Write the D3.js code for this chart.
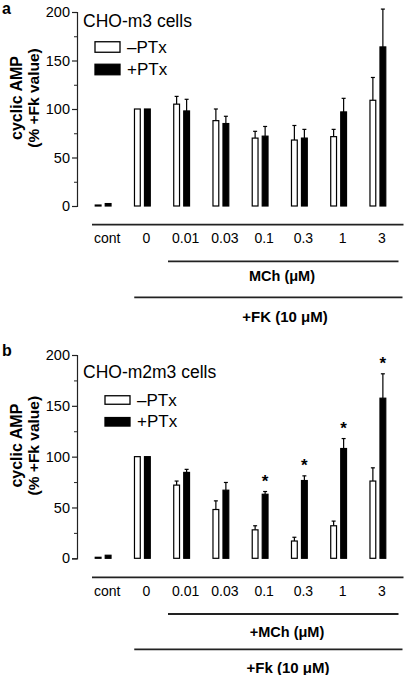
<!DOCTYPE html>
<html><head><meta charset="utf-8">
<script src="https://cdn.jsdelivr.net/npm/d3@7"></script>
<style>body{margin:0;background:#fff}svg{display:block}svg text{font-family:"Liberation Sans",Arial,sans-serif !important;fill:#000}</style>
</head><body>
<svg id="c" width="407" height="675"></svg>
<script>
const categories = ["cont","0","0.01","0.03","0.1","0.3","1","3"];
const series = ["\u2013PTx","+PTx"];
const yTicks = [0,50,100,150,200];
const yMinorTicks = [25,75,125,175];
// Panel a: CHO-m3 cells
const aMinus = [1,100,105,88,70,68,71.5,109];
const aMinusErr = [0,0,8,12,7,15,7.5,23.5];
const aPlus = [2.5,100,98,85,72,70,97,164];
const aPlusErr = [0,0,12,7.5,10,9,14,39];
// Panel b: CHO-m2m3 cells
const bMinus = [1,100,72,48,28,17,32,76];
const bMinusErr = [0,0,4,8.5,4,3.7,4.6,13];
const bPlus = [3,100,84.5,67,63,76.5,108,157.5];
const bPlusErr = [0,0,3,7.6,2.7,4.6,9.8,24];
const bSignificant = [false,false,false,false,true,true,true,true];

const svg = d3.select("#c");
const x = d3.scaleBand().domain(categories).range([83.5,397.5]).padding(0);
const xs = d3.scaleBand().domain(series).range([-8.5,8.5]).paddingInner(0.3);

function panel(o){
  const g = svg.append("g");
  const y = d3.scaleLinear().domain([0,200]).range([o.y0,o.y200]);
  g.append("text").attr("x",2).attr("y",o.letterY).style("font-size","16px").style("font-weight","bold").text(o.letter);
  const ax = g.append("g").attr("transform","translate(77,0)")
    .call(d3.axisLeft(y).tickValues(yTicks).tickSize(5).tickPadding(2));
  ax.attr("font-family",null);
  ax.selectAll("text").style("font-size","14.5px");
  ax.select(".domain").attr("stroke","#222").attr("stroke-width",1.2);
  ax.selectAll(".tick line").attr("stroke","#222").attr("stroke-width",1.2);
  const mx = g.append("g").attr("transform","translate(77,0)")
    .call(d3.axisLeft(y).tickValues(yMinorTicks).tickSize(3).tickFormat(""));
  mx.select(".domain").remove();
  mx.selectAll(".tick line").attr("stroke","#222").attr("stroke-width",1);
  const tc = (o.y0+o.y200)/2 - 11;
  g.append("text").attr("transform",`translate(16,${tc}) rotate(-90)`).attr("text-anchor","middle")
    .attr("dominant-baseline","central").style("font-size","16px").style("font-weight","bold").text("cyclic AMP");
  g.append("text").attr("transform",`translate(33,${tc}) rotate(-90)`).attr("text-anchor","middle")
    .attr("dominant-baseline","central").style("font-size","15.5px").style("font-weight","bold").text("(% +Fk value)");
  g.append("text").attr("x",83).attr("y",o.titleY).style("font-size",o.titleSize).text(o.title);
  series.forEach((s,i)=>{
    const ly = o.legY[i];
    g.append("rect").attr("x",o.legX).attr("y",ly-o.legH/2).attr("width",25).attr("height",o.legH)
      .attr("fill",i===0?"#fff":"#000").attr("stroke","#000").attr("stroke-width",1.3);
    g.append("text").attr("x",o.legX+32).attr("y",ly).attr("dominant-baseline","central").style("font-size","17px").text(s);
  });
  const data = [];
  categories.forEach((c,j)=>{
    data.push({c,s:series[0],v:o.minus[j],e:o.minusErr[j],fill:"#fff"});
    data.push({c,s:series[1],v:o.plus[j],e:o.plusErr[j],fill:"#000",sig:o.sig?o.sig[j]:false});
  });
  const cx = d=> x(d.c)+x.bandwidth()/2 + xs(d.s) + xs.bandwidth()/2;
  data.filter(d=>d.e>0).forEach(d=>{
    const top = y(d.v+d.e);
    g.append("line").attr("x1",cx(d)).attr("x2",cx(d)).attr("y1",y(d.v)).attr("y2",top).attr("stroke","#000").attr("stroke-width",1.2);
    g.append("line").attr("x1",cx(d)-2).attr("x2",cx(d)+2).attr("y1",top).attr("y2",top).attr("stroke","#000").attr("stroke-width",1.2);
  });
  g.selectAll("rect.bar").data(data).join("rect").attr("class","bar")
    .attr("x",d=>x(d.c)+x.bandwidth()/2+xs(d.s)+0.6).attr("width",xs.bandwidth()-1.2)
    .attr("y",d=>y(d.v)).attr("height",d=>y(0)-y(d.v))
    .attr("fill",d=>d.fill).attr("stroke","#000").attr("stroke-width",1.2);
  data.filter(d=>d.sig).forEach(d=>{
    g.append("text").attr("x",cx(d)).attr("y",y(d.v+d.e)-10).attr("text-anchor","middle")
      .attr("dominant-baseline","central").style("font-size","17px").style("font-weight","bold").text("*");
  });
  const x0 = x.range()[0], x1 = x.range()[1];
  g.append("line").attr("x1",x0+8.5).attr("x2",x1+6).attr("y1",o.l1).attr("y2",o.l1).attr("stroke","#222").attr("stroke-width",1.8);
  g.selectAll("text.cat").data(categories).join("text").attr("class","cat")
    .attr("x",c=>x(c)+x.bandwidth()/2+4).attr("y",o.labY).attr("text-anchor","middle")
    .attr("dominant-baseline","central").style("font-size","14px").text(c=>c);
  g.append("line").attr("x1",x("0.01")+6).attr("x2",x1+1).attr("y1",o.l2).attr("y2",o.l2).attr("stroke","#222").attr("stroke-width",1.8);
  g.append("text").attr("x",o.t2X).attr("y",o.t2Y).attr("text-anchor","middle").attr("dominant-baseline","central")
    .style("font-size","14.5px").style("font-weight","bold").text(o.t2);
  g.append("line").attr("x1",x("0")+11.5).attr("x2",x1+5).attr("y1",o.l3).attr("y2",o.l3).attr("stroke","#222").attr("stroke-width",1.8);
  g.append("text").attr("x",o.t3X).attr("y",o.t3Y).attr("text-anchor","middle").attr("dominant-baseline","central")
    .style("font-size","15px").style("font-weight","bold").text(o.t3);
}

panel({letter:"a",letterY:14,y0:206,y200:12,title:"CHO-m3 cells",titleY:26.5,titleSize:"17.5px",
  legX:95,legY:[47,69.5],legH:10.5,
  minus:aMinus,minusErr:aMinusErr,plus:aPlus,plusErr:aPlusErr,
  l1:224.7,labY:238.3,l2:261.3,t2:"MCh (\u03bcM)",t2X:282,t2Y:276,l3:297.3,t3:"+FK (10 \u03bcM)",t3X:285,t3Y:316.7});
panel({letter:"b",letterY:356,y0:558.3,y200:355,title:"CHO-m2m3 cells",titleY:378,titleSize:"17.5px",
  legX:105,legY:[400,421.8],legH:8.5,
  minus:bMinus,minusErr:bMinusErr,plus:bPlus,plusErr:bPlusErr,sig:bSignificant,
  l1:577.3,labY:591,l2:614,t2:"+MCh (\u03bcM)",t2X:287,t2Y:631.7,l3:649.3,t3:"+Fk (10 \u03bcM)",t3X:288,t3Y:667.3});
</script>
</body></html>
